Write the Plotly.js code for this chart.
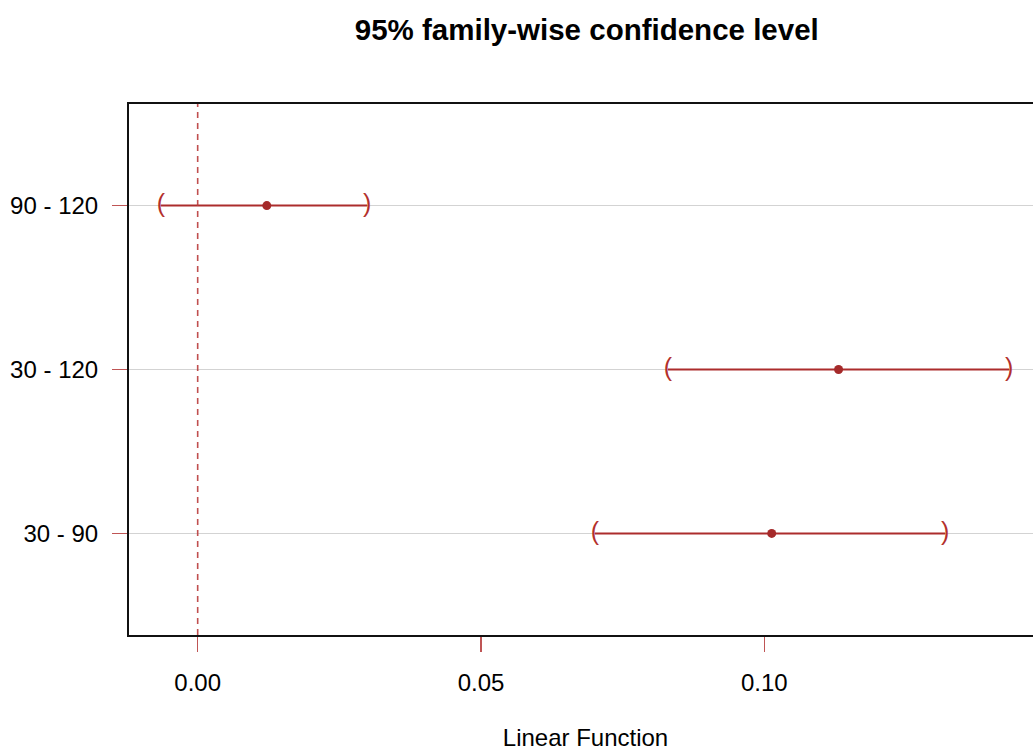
<!DOCTYPE html>
<html>
<head>
<meta charset="utf-8">
<script src="https://cdn.plot.ly/plotly-3.0.1.min.js"></script>
<style>
html,body{margin:0;padding:0;overflow:hidden;background:#fff;}
#chart{width:1045px;height:751px;}
</style>
</head>
<body>
<div id="chart"></div>
<script>
// Comparisons (bottom to top)
var comparisons = ["30 - 90", "30 - 120", "90 - 120"];
var estimates   = [0.1013, 0.1131, 0.0122];
var lowerCI     = [0.0701, 0.0830, -0.0065];
var upperCI     = [0.1319, 0.1432, 0.0299];
var xTickVals   = [0, 0.05, 0.10];
var xTickText   = ["0.00", "0.05", "0.10"];

var brown = "#a52a2a";
var segCol = "rgb(172,44,44)";
var pos = comparisons.map(function(_, i){ return i + 1; });

var traces = [];
// interval segments
comparisons.forEach(function(c, i){
  traces.push({
    type: "scatter", mode: "lines",
    x: [lowerCI[i], upperCI[i]], y: [pos[i], pos[i]],
    line: {color: segCol, width: 2},
    hoverinfo: "skip", showlegend: false
  });
});
// brackets
traces.push({
  type: "scatter", mode: "text",
  x: lowerCI, y: pos,
  text: lowerCI.map(function(){ return "("; }),
  textposition: "middle center",
  textfont: {family: "Liberation Sans, Arial, sans-serif", size: 25, color: "#b3302c"},
  hoverinfo: "skip", showlegend: false
});
traces.push({
  type: "scatter", mode: "text",
  x: upperCI, y: pos,
  text: upperCI.map(function(){ return ")"; }),
  textposition: "middle center",
  textfont: {family: "Liberation Sans, Arial, sans-serif", size: 25, color: "#b3302c"},
  hoverinfo: "skip", showlegend: false
});
// estimates
traces.push({
  type: "scatter", mode: "markers",
  x: estimates, y: pos,
  marker: {color: brown, size: 9},
  showlegend: false
});

var fontFam = "Liberation Sans, Arial, sans-serif";
var layout = {
  width: 1045, height: 751,
  margin: {l: 129, r: 3, t: 104, b: 116},
  paper_bgcolor: "#fff", plot_bgcolor: "#fff",
  font: {family: fontFam, size: 24, color: "#000"},
  title: {
    text: "<b>95% family-wise confidence level</b>",
    font: {family: fontFam, size: 29.5, color: "#000"},
    x: 0.5615, xanchor: "center", y: 0.96, yanchor: "middle", yref: "container"
  },
  xaxis: {
    range: [-0.01212, 0.1490],
    tickvals: xTickVals, ticktext: xTickText,
    ticks: "outside", ticklen: 15, tickwidth: 1.5, tickcolor: "rgba(180,55,55,0.85)",
    ticklabelstandoff: 10,
    showgrid: false, zeroline: false,
    showline: true, linecolor: "#111", linewidth: 2, mirror: true,
    tickfont: {family: fontFam, size: 24, color: "#000"},
    title: {text: "Linear Function", font: {family: fontFam, size: 24, color: "#000"}, standoff: 39}
  },
  yaxis: {
    range: [0.38, 3.62],
    tickvals: pos, ticktext: comparisons,
    ticks: "outside", ticklen: 15, tickwidth: 1.5, tickcolor: "rgba(180,55,55,0.85)",
    ticklabelstandoff: 9,
    showgrid: true, gridcolor: "#d3d3d3", gridwidth: 1.5,
    zeroline: false,
    showline: true, linecolor: "#111", linewidth: 2, mirror: true,
    tickfont: {family: fontFam, size: 24, color: "#000"}
  },
  shapes: [{
    type: "line", xref: "x", yref: "paper",
    x0: 0, x1: 0, y0: 0, y1: 1,
    line: {color: "rgba(185,60,60,0.9)", width: 1.6, dash: "6px,5px"}
  }]
};

Plotly.newPlot("chart", traces, layout, {displayModeBar: false, staticPlot: true});
</script>
</body>
</html>
